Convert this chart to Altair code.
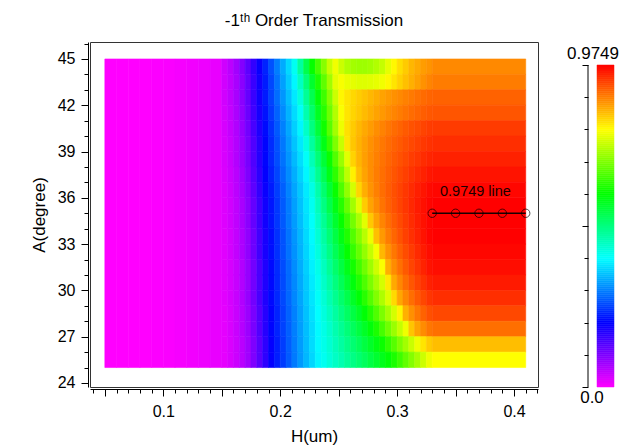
import altair as alt
import pandas as pd

# ---------------- data ----------------
T_MAX = 0.9749

A_edges = [25, 26, 27, 28, 29, 30, 31, 32, 33, 34, 35, 36, 37, 38, 39, 40, 41, 42, 43, 44, 45]

# left part of the map (H 0.05-0.15): same value over the whole A range
left_H_edges = [0.05, 0.06, 0.07, 0.08, 0.09, 0.10, 0.11, 0.12, 0.13, 0.14, 0.15]
left_T = [0, 0, 0, 0, 0.002, 0.004, 0.007, 0.010, 0.013, 0.017]

# middle part (H 0.15-0.33), rows top (A 44-45) first
mid_H_edges = [0.150, 0.155, 0.160, 0.165, 0.170, 0.175, 0.180, 0.185, 0.190, 0.195,
               0.200, 0.205, 0.210, 0.215, 0.220, 0.225, 0.230, 0.235, 0.240, 0.245,
               0.250, 0.255, 0.260, 0.265, 0.270, 0.275, 0.280, 0.285, 0.290, 0.295,
               0.300, 0.305, 0.310, 0.315, 0.320, 0.325, 0.330]
mid_T_rows = [
    [.037, .051, .070, .094, .124, .157, .189, .222, .257, .291, .326, .360, .400, .463, .527, .588, .638, .688,
     .737, .770, .740, .720, .710, .705, .705, .710, .720, .735, .760, .785, .805, .820, .835, .845, .855, .862],
    [.035, .049, .066, .089, .118, .151, .183, .216, .249, .283, .317, .350, .384, .436, .493, .550, .605, .657,
     .708, .760, .775, .765, .760, .755, .755, .757, .762, .770, .785, .800, .815, .828, .840, .852, .863, .873],
    [.035, .049, .066, .089, .118, .151, .183, .215, .246, .278, .310, .341, .373, .415, .470, .524, .578, .632,
     .686, .741, .786, .800, .810, .818, .826, .834, .842, .850, .857, .864, .870, .876, .882, .888, .893, .898],
    [.033, .046, .063, .085, .113, .146, .178, .209, .240, .270, .301, .332, .363, .396, .451, .505, .559, .614,
     .668, .722, .776, .800, .812, .822, .832, .841, .850, .858, .866, .873, .880, .886, .892, .898, .903, .908],
    [.031, .044, .060, .081, .108, .140, .172, .203, .233, .263, .293, .323, .354, .383, .433, .487, .540, .596,
     .652, .710, .766, .804, .820, .834, .846, .856, .866, .875, .884, .892, .899, .906, .912, .917, .923, .928],
    [.030, .041, .057, .077, .103, .134, .167, .198, .228, .256, .286, .315, .345, .373, .413, .464, .516, .568,
     .623, .681, .737, .801, .823, .839, .852, .864, .874, .883, .892, .900, .907, .914, .920, .926, .932, .937],
    [.030, .041, .057, .077, .103, .134, .167, .198, .226, .254, .282, .309, .337, .365, .395, .444, .493, .543,
     .593, .648, .702, .757, .814, .837, .853, .866, .877, .887, .896, .905, .913, .920, .928, .934, .941, .947],
    [.028, .039, .053, .073, .098, .129, .161, .193, .221, .247, .275, .302, .329, .356, .384, .426, .473, .521,
     .568, .620, .674, .729, .791, .830, .850, .866, .879, .890, .900, .910, .919, .927, .935, .943, .950, .957],
    [.026, .037, .051, .069, .093, .123, .156, .187, .215, .242, .268, .295, .322, .348, .375, .409, .454, .500,
     .545, .592, .644, .696, .747, .812, .842, .862, .877, .891, .903, .914, .924, .933, .942, .951, .959, .967],
    [.025, .035, .048, .066, .089, .118, .150, .182, .211, .237, .264, .290, .317, .343, .370, .400, .442, .485,
     .527, .569, .614, .662, .709, .757, .820, .850, .869, .886, .900, .912, .924, .934, .944, .954, .963, .971],
    [.025, .035, .048, .066, .089, .118, .150, .182, .211, .236, .262, .288, .314, .340, .366, .393, .432, .471,
     .510, .550, .589, .632, .674, .716, .758, .822, .852, .873, .890, .905, .918, .930, .941, .952, .962, .971],
    [.023, .033, .046, .063, .084, .112, .145, .177, .206, .232, .258, .284, .310, .335, .362, .387, .423, .460,
     .496, .533, .570, .609, .648, .687, .726, .766, .829, .858, .880, .897, .912, .926, .938, .949, .960, .971],
    [.023, .033, .046, .063, .084, .112, .145, .177, .206, .231, .257, .282, .307, .332, .358, .383, .415, .450,
     .484, .519, .553, .588, .625, .662, .698, .735, .772, .835, .863, .884, .902, .917, .930, .943, .954, .965],
    [.022, .031, .043, .059, .080, .107, .139, .171, .202, .227, .252, .277, .303, .328, .354, .379, .407, .439,
     .471, .503, .534, .566, .599, .635, .670, .706, .742, .777, .841, .868, .889, .907, .922, .935, .948, .960],
    [.022, .031, .043, .059, .080, .107, .139, .171, .201, .226, .251, .276, .300, .325, .350, .375, .401, .431,
     .459, .489, .518, .548, .576, .610, .644, .679, .713, .747, .797, .846, .872, .892, .909, .924, .937, .950],
    [.022, .031, .043, .059, .080, .107, .139, .171, .201, .225, .250, .274, .298, .322, .347, .371, .395, .422,
     .449, .475, .502, .528, .555, .581, .615, .649, .684, .718, .753, .808, .848, .872, .891, .907, .921, .934],
    [.020, .029, .041, .056, .076, .102, .133, .166, .197, .221, .246, .270, .294, .318, .343, .367, .390, .415,
     .438, .462, .486, .510, .533, .557, .581, .613, .646, .680, .713, .747, .788, .840, .865, .884, .900, .914],
    [.020, .029, .041, .056, .076, .102, .133, .166, .197, .221, .245, .268, .292, .316, .340, .363, .387, .408,
     .429, .451, .472, .493, .514, .535, .556, .577, .606, .638, .671, .703, .736, .768, .824, .850, .868, .884],
    [.019, .028, .039, .053, .072, .098, .128, .160, .192, .217, .241, .266, .290, .314, .339, .363, .387, .406,
     .424, .443, .461, .480, .498, .516, .535, .553, .572, .593, .622, .651, .681, .709, .739, .768, .800, .820],
    [.019, .028, .039, .053, .072, .098, .128, .160, .192, .217, .240, .264, .288, .312, .336, .359, .383, .401,
     .418, .434, .450, .467, .483, .499, .515, .532, .548, .564, .581, .605, .632, .659, .686, .713, .741, .768],
]

# right part (H 0.33-0.41): one value per row, top row first
right_H_edges = [0.33, 0.41]
right_T = [0.87, 0.88, 0.90, 0.91, 0.93, 0.94, 0.95, 0.96, 0.97, 0.975,
           0.975, 0.975, 0.97, 0.965, 0.955, 0.94, 0.92, 0.89, 0.83, 0.78]

# the "0.9749 line" annotation
line_H = [0.33, 0.35, 0.37, 0.39, 0.41]
line_A = [35, 35, 35, 35, 35]
annot_text = ["0.9749 line"]
annot_H = [0.367]
annot_A = [36.4]

# axis ticks / labels
x_ticks = [0.04, 0.05, 0.06, 0.07, 0.08, 0.09, 0.10, 0.11, 0.12, 0.13, 0.14, 0.15, 0.16, 0.17,
           0.18, 0.19, 0.20, 0.21, 0.22, 0.23, 0.24, 0.25, 0.26, 0.27, 0.28, 0.29, 0.30, 0.31,
           0.32, 0.33, 0.34, 0.35, 0.36, 0.37, 0.38, 0.39, 0.40, 0.41, 0.42]
x_labelled = [0.1, 0.2, 0.3, 0.4]
y_ticks = [24, 24.5, 25, 25.5, 26, 26.5, 27, 27.5, 28, 28.5, 29, 29.5, 30, 30.5, 31, 31.5,
           32, 32.5, 33, 33.5, 34, 34.5, 35, 35.5, 36, 36.5, 37, 37.5, 38, 38.5, 39, 39.5,
           40, 40.5, 41, 41.5, 42, 42.5, 43, 43.5, 44, 44.5, 45, 45.5, 46]
y_labelled = [24, 27, 30, 33, 36, 39, 42, 45]
cb_labels = ["0.0", "0.9749"]
cb_label_values = [0.0, T_MAX]

# ---------------- tables ----------------
n_rows = len(mid_T_rows)
records = []
for c, v in enumerate(left_T):
    records.append({"H0": left_H_edges[c], "H1": left_H_edges[c + 1],
                    "A0": A_edges[0], "A1": A_edges[-1], "T": v})
for r in range(n_rows):
    a_hi = A_edges[n_rows - r]
    a_lo = A_edges[n_rows - r - 1]
    for c, v in enumerate(mid_T_rows[r]):
        records.append({"H0": mid_H_edges[c], "H1": mid_H_edges[c + 1], "A0": a_lo, "A1": a_hi, "T": v})
    records.append({"H0": right_H_edges[0], "H1": right_H_edges[1], "A0": a_lo, "A1": a_hi, "T": right_T[r]})
heat_df = pd.DataFrame(records)
line_df = pd.DataFrame({"H0": line_H, "A0": line_A})
annot_df = pd.DataFrame({"H0": annot_H, "A0": annot_A, "text": annot_text})

n_stops = 160
cb_stops = [T_MAX * i / n_stops for i in range(n_stops + 1)]
cb_df = pd.DataFrame({"lo": cb_stops[:-1], "hi": cb_stops[1:],
                      "mid": [(a + b) / 2 for a, b in zip(cb_stops[:-1], cb_stops[1:])]})
cb_axis_df = pd.DataFrame({"lo": [0.0], "hi": [T_MAX]})
cb_lab_df = pd.DataFrame({"lo": cb_label_values, "label": cb_labels})

# ---------------- styling ----------------
FONT = "Liberation Sans"
PLOT_W, PLOT_H = 448, 345

color_scale = alt.Scale(domain=[0, 0.195, 0.39, 0.585, 0.78, T_MAX],
                        range=["#ff00ff", "#0000ff", "#00ffff", "#00ff00", "#ffff00", "#ff0000"],
                        interpolate="rgb", clamp=True)
x_scale = alt.Scale(domain=[0.0373, 0.4205], nice=False, zero=False)
y_scale = alt.Scale(domain=[23.74, 46.1], nice=False, zero=False)

x_axis = alt.Axis(values=x_ticks, format=".1f",
                  labelExpr="indexof(%s, datum.value) >= 0 ? datum.label : ''" % str(x_labelled),
                  tickSize={"condition": {"test": "abs(datum.value*20 - round(datum.value*20)) < 0.001", "value": 7}, "value": 4},
                  offset=2, grid=False, title="H(um)", labelFlush=False, labelOverlap=False, labelBound=False,
                  labelFontSize=16, titleFontSize=17, labelPadding=7, titlePadding=9,
                  labelFont=FONT, titleFont=FONT, titleFontWeight="normal",
                  domainColor="#000", tickColor="#000", labelColor="#000", titleColor="#000")
y_axis = alt.Axis(values=y_ticks, format="d",
                  labelExpr="indexof(%s, datum.value) >= 0 ? datum.label : ''" % str(y_labelled),
                  tickSize={"condition": {"test": "abs(datum.value/1.5 - round(datum.value/1.5)) < 0.001", "value": 7}, "value": 4},
                  offset=2, grid=False, title="A(degree)", labelFlush=False, labelOverlap=False, labelBound=False,
                  labelFontSize=16, titleFontSize=17, labelPadding=6, titlePadding=9,
                  labelFont=FONT, titleFont=FONT, titleFontWeight="normal",
                  domainColor="#000", tickColor="#000", labelColor="#000", titleColor="#000")

X = alt.X("H0:Q", scale=x_scale, axis=x_axis)
Y = alt.Y("A0:Q", scale=y_scale, axis=y_axis)

heat = alt.Chart(heat_df).mark_rect(strokeWidth=0.6).encode(
    x=X, x2="H1:Q", y=Y, y2="A1:Q",
    color=alt.Color("T:Q", scale=color_scale, legend=None),
    stroke=alt.Stroke("T:Q", scale=color_scale, legend=None),
)
line = alt.Chart(line_df).mark_line(color="#1a0000", strokeWidth=1.4).encode(x=X, y=Y)
pts = alt.Chart(line_df).mark_point(shape="circle", filled=False, color="#000",
                                    size=70, strokeWidth=1).encode(x=X, y=Y)
annot = alt.Chart(annot_df).mark_text(font=FONT, fontSize=14.5, color="#1a0000").encode(
    x=X, y=Y, text="text:N")

main = alt.layer(heat, line, pts, annot).properties(
    width=PLOT_W, height=PLOT_H,
    title=alt.TitleParams("-1ᵗʰ Order Transmission", font=FONT, fontSize=17,
                          fontWeight="normal", color="#000", anchor="middle", offset=6),
)

# ---------------- colour bar ----------------
cb_y = alt.Scale(domain=[0, T_MAX * 345 / 322], nice=False, zero=True)
cb_axis = alt.Axis(values=[T_MAX * k / 10 for k in range(11)], labels=False, domain=False,
                   grid=False, title=None, tickColor="#000",
                   tickSize={"condition": {"test": "abs(datum.value - 0.48745) < 0.001 || datum.value < 0.001 || datum.value > 0.97", "value": 6}, "value": 4})
CBY = alt.Y("lo:Q", scale=cb_y, axis=cb_axis)
cb_rect = alt.Chart(cb_df).mark_rect(strokeWidth=0.5).encode(
    x=alt.value(9), x2=alt.value(26), y=CBY, y2="hi:Q",
    color=alt.Color("mid:Q", scale=color_scale, legend=None),
    stroke=alt.Stroke("mid:Q", scale=color_scale, legend=None),
)
cb_line = alt.Chart(cb_axis_df).mark_rule(color="#000", strokeWidth=1).encode(
    x=alt.value(0), y=CBY, y2="hi:Q")
cb_top = alt.Chart(cb_lab_df).transform_filter("datum.lo > 0.5").mark_text(
    font=FONT, fontSize=17, color="#000", baseline="bottom", dy=-2).encode(
    x=alt.value(5), y=CBY, text="label:N")
cb_bot = alt.Chart(cb_lab_df).transform_filter("datum.lo < 0.5").mark_text(
    font=FONT, fontSize=17, color="#000", baseline="top", dy=3).encode(
    x=alt.value(4), y=CBY, text="label:N")

cbar = alt.layer(cb_rect, cb_line, cb_top, cb_bot).properties(
    width=30, height=PLOT_H, view=alt.ViewBackground(stroke="transparent"))

chart = alt.hconcat(main, cbar, spacing=50, bounds="flush").properties(
    padding={"left": 21, "top": 3, "right": 5, "bottom": 2},
    background="#ffffff",
).configure_view(stroke="#333333", strokeWidth=1).resolve_scale(color="shared")

chart.save("out.html", embed_options={"renderer": "svg", "actions": False})
